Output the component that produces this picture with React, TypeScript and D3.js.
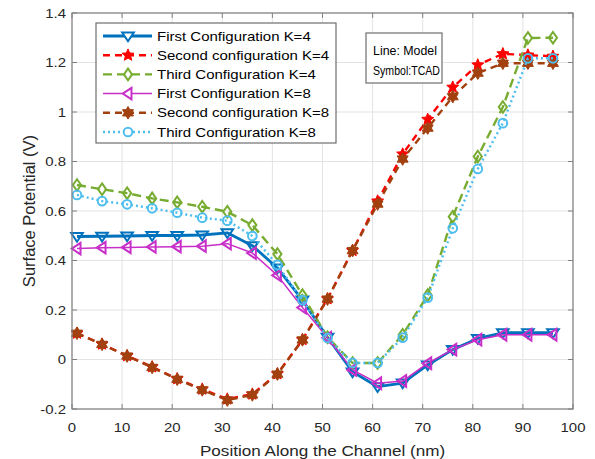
import React from "react";
import * as d3 from "d3";

const xs = [1, 6, 11, 16, 21, 26, 31, 36, 41, 46, 51, 56, 61, 66, 71, 76, 81, 86, 91, 96];
const first4 = [0.497, 0.498, 0.499, 0.501, 0.501, 0.503, 0.512, 0.46, 0.37, 0.24, 0.09, -0.05, -0.11, -0.095, -0.022, 0.04, 0.085, 0.108, 0.108, 0.108];
const second4 = [0.106, 0.062, 0.015, -0.03, -0.078, -0.12, -0.16, -0.14, -0.058, 0.08, 0.245, 0.44, 0.64, 0.83, 0.97, 1.1, 1.19, 1.235, 1.23, 1.225];
const third4 = [0.705, 0.688, 0.672, 0.651, 0.635, 0.617, 0.597, 0.543, 0.426, 0.26, 0.09, -0.014, -0.014, 0.1, 0.26, 0.577, 0.82, 1.02, 1.299, 1.3];
const first8 = [0.448, 0.452, 0.453, 0.455, 0.456, 0.458, 0.468, 0.43, 0.34, 0.21, 0.088, -0.042, -0.096, -0.087, -0.015, 0.04, 0.08, 0.1, 0.1, 0.1];
const second8 = [0.106, 0.061, 0.014, -0.032, -0.08, -0.123, -0.164, -0.143, -0.059, 0.079, 0.244, 0.44, 0.628, 0.81, 0.935, 1.062, 1.157, 1.197, 1.197, 1.197];
const third8 = [0.665, 0.64, 0.627, 0.611, 0.593, 0.573, 0.561, 0.499, 0.382, 0.24, 0.087, -0.014, -0.014, 0.088, 0.25, 0.53, 0.77, 0.955, 1.217, 1.217];

const seriesNames = [
  "First Configuration K=4",
  "Second configuration K=4",
  "Third Configuration K=4",
  "First Configuration K=8",
  "Second configuration K=8",
  "Third Configuration K=8",
];
const xTicks = [0, 10, 20, 30, 40, 50, 60, 70, 80, 90, 100];
const yTicks = [-0.2, 0, 0.2, 0.4, 0.6, 0.8, 1, 1.2, 1.4];

type Style = { color: string; width: number; dash: string; marker: string; fill: boolean };
const styles: Style[] = [
  { color: "#0072BD", width: 2.8, dash: "", marker: "tridown", fill: false },
  { color: "#FF0000", width: 2.4, dash: "7,5", marker: "star", fill: true },
  { color: "#77AC30", width: 2.4, dash: "9,5", marker: "diamond", fill: false },
  { color: "#C82EC8", width: 1.5, dash: "", marker: "trileft", fill: false },
  { color: "#A2400F", width: 2.4, dash: "7,5", marker: "hex", fill: true },
  { color: "#4DBEEE", width: 2.4, dash: "2,3", marker: "circle", fill: false },
];
const data = [first4, second4, third4, first8, second8, third8];

function markerPath(kind: string, r: number): string {
  if (kind === "tridown") {
    return `M${-r},${-r * 0.6}L${r},${-r * 0.6}L0,${r * 0.9}Z`;
  }
  if (kind === "trileft") {
    return `M${-r * 0.9},0L${r * 0.6},${-r}L${r * 0.6},${r}Z`;
  }
  if (kind === "diamond") {
    return `M0,${-r}L${r * 0.7},0L0,${r}L${-r * 0.7},0Z`;
  }
  if (kind === "circle") {
    return `M${r * 0.75},0A${r * 0.75},${r * 0.75} 0 1,1 ${-r * 0.75},0A${r * 0.75},${r * 0.75} 0 1,1 ${r * 0.75},0Z`;
  }
  const n = kind === "star" ? 5 : 6;
  const inner = kind === "star" ? 0.45 : 0.58;
  const pts: string[] = [];
  for (let i = 0; i < n * 2; i++) {
    const a = (Math.PI * i) / n - Math.PI / 2;
    const rr = i % 2 === 0 ? r : r * inner;
    pts.push(`${(rr * Math.cos(a)).toFixed(2)},${(rr * Math.sin(a)).toFixed(2)}`);
  }
  return "M" + pts.join("L") + "Z";
}

export default function App() {
  const W = 595, H = 459;
  const x = d3.scaleLinear().domain([0, 100]).range([72, 573]);
  const y = d3.scaleLinear().domain([-0.2, 1.4]).range([409, 13]);
  const line = d3.line<[number, number]>().x((d) => x(d[0])).y((d) => y(d[1]));
  const font = "Liberation Sans, Arial, Helvetica, sans-serif";
  const txt = "#262626";
  const axisCol = "#808080";

  const legX = 96, legY = 23, legW = 240, legH = 120;
  const rowH = 19.2;

  return (
    <svg width={W} height={H} style={{ position: "absolute", left: 0, top: 0, background: "#fff" }} fontFamily={font}>
      <rect x={0} y={0} width={W} height={H} fill="#fff" />
      {/* grid */}
      {xTicks.map((t) => (
        <line key={"gx" + t} x1={x(t)} x2={x(t)} y1={y(-0.2)} y2={y(1.4)} stroke="#e3e3e3" strokeWidth={1} />
      ))}
      {yTicks.map((t) => (
        <line key={"gy" + t} x1={x(0)} x2={x(100)} y1={y(t)} y2={y(t)} stroke="#e3e3e3" strokeWidth={1} />
      ))}
      {/* series */}
      {data.map((vals, i) => {
        const s = styles[i];
        const pts: [number, number][] = xs.map((xv, j) => [xv, vals[j]]);
        return (
          <g key={"s" + i}>
            <path d={line(pts) || ""} fill="none" stroke={s.color} strokeWidth={s.width} strokeDasharray={s.dash} strokeLinejoin="round" />
            {pts.map((p, j) => (
              <path
                key={j}
                d={markerPath(s.marker, s.fill ? 6.3 : 5.8)}
                transform={`translate(${x(p[0])},${y(p[1])})`}
                fill={s.fill ? s.color : "none"}
                stroke={s.color}
                strokeWidth={s.fill ? 1 : 2}
              />
            ))}
          </g>
        );
      })}
      {/* axes box */}
      <rect x={x(0)} y={y(1.4)} width={x(100) - x(0)} height={y(-0.2) - y(1.4)} fill="none" stroke={axisCol} strokeWidth={1.2} />
      {xTicks.map((t) => (
        <g key={"tx" + t}>
          <line x1={x(t)} x2={x(t)} y1={y(-0.2)} y2={y(-0.2) - 5} stroke={axisCol} />
          <line x1={x(t)} x2={x(t)} y1={y(1.4)} y2={y(1.4) + 5} stroke={axisCol} />
          <text transform={`translate(${x(t)},432) scale(1.15,1)`} textAnchor="middle" fontSize={13} fill={txt}>{t}</text>
        </g>
      ))}
      {yTicks.map((t) => (
        <g key={"ty" + t}>
          <line x1={x(0)} x2={x(0) + 5} y1={y(t)} y2={y(t)} stroke={axisCol} />
          <line x1={x(100)} x2={x(100) - 5} y1={y(t)} y2={y(t)} stroke={axisCol} />
          <text transform={`translate(66,${y(t) + 4.5}) scale(1.15,1)`} textAnchor="end" fontSize={13} fill={txt}>{Math.round(t * 10) / 10}</text>
        </g>
      ))}
      <text transform={`translate(${x(50)},456) scale(1.14,1)`} textAnchor="middle" fontSize={15} fill={txt}>Position Along the Channel (nm)</text>
      <text transform={`translate(35,${y(0.6)}) rotate(-90)`} textAnchor="middle" fontSize={16.5} fill={txt}>Surface Potential (V)</text>
      {/* legend */}
      <rect x={legX} y={legY} width={legW} height={legH} fill="#fff" stroke="#6e6e6e" strokeWidth={1.2} />
      {seriesNames.map((n, i) => {
        const s = styles[i];
        const cy = legY + 13 + i * rowH;
        return (
          <g key={"l" + i}>
            <line x1={legX + 7} x2={legX + 56} y1={cy} y2={cy} stroke={s.color} strokeWidth={s.width} strokeDasharray={s.dash} />
            <path d={markerPath(s.marker, s.fill ? 6.3 : 5.8)} transform={`translate(${legX + 32},${cy})`} fill={s.fill ? s.color : "#fff"} stroke={s.color} strokeWidth={s.fill ? 1 : 2} />
            <text transform={`translate(${legX + 61},${cy + 4.5}) scale(1.2,1)`} fontSize={12.5} fill="#000">{n}</text>
          </g>
        );
      })}
      {/* annotation */}
      <rect x={366} y={33} width={76} height={50} fill="#fff" stroke="#6e6e6e" strokeWidth={1.2} />
      <text x={373} y={55} fontSize={12.5} fill="#000" textLength={64} lengthAdjust="spacingAndGlyphs">Line: Model</text>
      <text x={373} y={75} fontSize={12.5} fill="#000" textLength={67} lengthAdjust="spacingAndGlyphs">Symbol:TCAD</text>
    </svg>
  );
}
